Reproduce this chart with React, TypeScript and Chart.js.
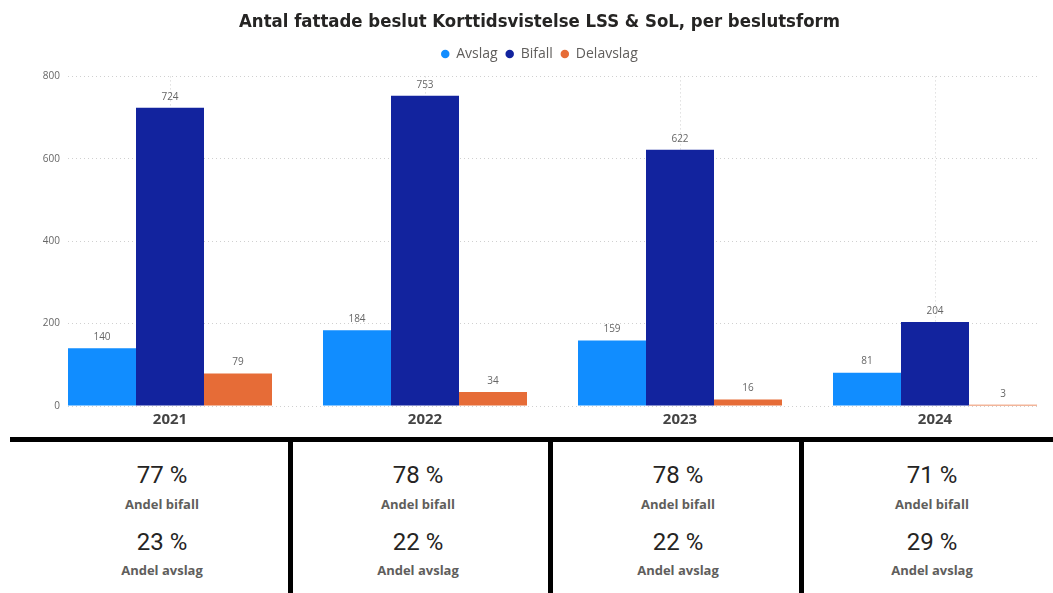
import { useEffect, useRef } from "react";
import { Chart, registerables } from "chart.js";

Chart.register(...registerables);

const years = ["2021", "2022", "2023", "2024"];
const avslag = [140, 184, 159, 81];
const bifall = [724, 753, 622, 204];
const delavslag = [79, 34, 16, 3];
const yTickValues = [0, 200, 400, 600, 800];
const andelBifall = [77, 78, 78, 71];
const andelAvslag = [23, 22, 22, 29];

const titleText = "Antal fattade beslut Korttidsvistelse LSS & SoL, per beslutsform";
const UI_FONT = "'Open Sans', 'Noto Sans', sans-serif";
const TITLE_FONT = "'DejaVu Sans Condensed', 'Liberation Sans', sans-serif";

const panelCenters = [162, 418, 678, 932];
const dividerX = [287.5, 547.5, 798.5];

const valueLabels = {
  id: "valueLabels",
  afterDatasetsDraw(chart: any) {
    const ctx = chart.ctx;
    ctx.save();
    ctx.font = `10px ${UI_FONT}`;
    ctx.fillStyle = "#666666";
    ctx.textAlign = "center";
    ctx.textBaseline = "middle";
    chart.data.datasets.forEach((ds: any, i: number) => {
      const meta = chart.getDatasetMeta(i);
      meta.data.forEach((bar: any, j: number) => {
        ctx.fillText(String(ds.data[j]), bar.x, bar.y - 11);
      });
    });
    ctx.restore();
  },
};

function BarChart() {
  const ref = useRef<HTMLCanvasElement>(null);
  useEffect(() => {
    if (!ref.current) return;
    const chart = new Chart(ref.current, {
      type: "bar",
      data: {
        labels: years,
        datasets: [
          { label: "Avslag", data: avslag, backgroundColor: "#118DFF" },
          { label: "Bifall", data: bifall, backgroundColor: "#12239E" },
          { label: "Delavslag", data: delavslag, backgroundColor: "#E66C37" },
        ],
      },
      options: {
        responsive: false,
        animation: false,
        categoryPercentage: 0.8,
        barPercentage: 1.0,
        layout: { padding: { top: 0, left: 42, right: 16, bottom: 2 } },
        plugins: {
          title: {
            display: true,
            text: titleText,
            color: "#252423",
            font: { family: TITLE_FONT, size: 18.4, weight: "bold", lineHeight: 1.3 },
            padding: { top: 10, bottom: 5 },
          },
          legend: {
            display: true,
            position: "top",
            weight: 1000,
            labels: {
              usePointStyle: true,
              pointStyle: "circle",
              boxWidth: 8,
              boxHeight: 6,
              padding: 8,
              color: "#605E5C",
              font: { family: UI_FONT, size: 14 },
            },
          },
          subtitle: {
            display: true,
            text: "",
            weight: 500,
            font: { size: 4, lineHeight: 1 },
            padding: { top: 0, bottom: 1.5 },
          },
          tooltip: { enabled: false },
        },
        scales: {
          x: {
            type: "category",
            afterBuildTicks: (s: any) => {
              s._startValue = -0.4;
              s._valueRange = years.length - 0.2;
            },
            grid: { display: true, offset: false, drawTicks: false, color: "#D0D0D0", lineWidth: 1 },
            border: { display: false, dash: [1, 3] },
            ticks: {
              color: "#444444",
              padding: 5,
              font: { family: UI_FONT, size: 15, weight: "bold" },
            },
          },
          y: {
            min: 0,
            max: 800,
            afterBuildTicks: (s: any) => {
              s.ticks = yTickValues.map((v) => ({ value: v }));
            },
            afterFit: (s: any) => {
              s.width = 26;
            },
            grid: { color: "#D0D0D0", drawTicks: false, lineWidth: 1 },
            border: { display: false, dash: [1, 3] },
            ticks: {
              color: "#666666",
              padding: 8,
              font: { family: UI_FONT, size: 10 },
            },
          },
        },
      },
      plugins: [valueLabels],
    } as any);
    return () => chart.destroy();
  }, []);
  return <canvas ref={ref} width={1053} height={436} style={{ display: "block" }} />;
}

export default function App() {
  const txt = (left: number, top: number, text: string, style: any) => (
    <div
      style={{
        position: "absolute",
        left,
        top,
        transform: "translate(-50%, -50%)",
        whiteSpace: "nowrap",
        lineHeight: 1,
        ...style,
      }}
    >
      {text}
    </div>
  );
  const pctStyle = { fontFamily: "Roboto, 'Open Sans', sans-serif", fontSize: 24, color: "#252423" };
  const lblStyle = { fontFamily: UI_FONT, fontSize: 13, fontWeight: 700, color: "#605E5C" };
  return (
    <div
      style={{
        position: "fixed",
        left: 0,
        top: 0,
        width: 1053,
        height: 593,
        overflow: "hidden",
        background: "#FFFFFF",
      }}
    >
      <BarChart />
      <div style={{ position: "absolute", left: 10, top: 437, width: 1043, height: 5, background: "#000" }} />
      {dividerX.map((x, i) => (
        <div key={"d" + i} style={{ position: "absolute", left: x, top: 440, width: 5, height: 153, background: "#000" }} />
      ))}
      {years.map((y, i) => (
        <div key={y}>
          {txt(panelCenters[i], 475, `${andelBifall[i]} %`, pctStyle)}
          {txt(panelCenters[i], 504, "Andel bifall", lblStyle)}
          {txt(panelCenters[i], 542, `${andelAvslag[i]} %`, pctStyle)}
          {txt(panelCenters[i], 570, "Andel avslag", lblStyle)}
        </div>
      ))}
    </div>
  );
}
